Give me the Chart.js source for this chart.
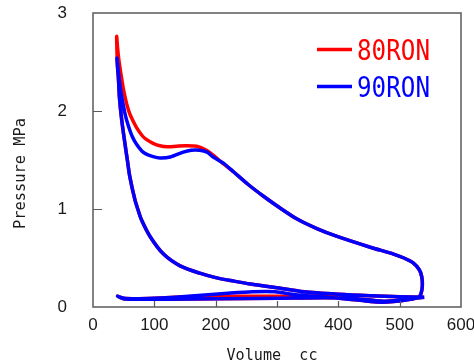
<!DOCTYPE html>
<html>
<head>
<meta charset="utf-8">
<script src="https://cdn.jsdelivr.net/npm/chart.js@4/dist/chart.umd.min.js"></script>
<style>
html,body{margin:0;padding:0;background:#fff;}
canvas{display:block;}
</style>
</head>
<body>
<canvas id="c" width="474" height="362"></canvas>
<script>
// ---- data (volume in cc, pressure in MPa), one closed P-V loop per series ----
const seriesLabels = ["80RON", "90RON"];
const xTickValues = [0, 100, 200, 300, 400, 500, 600];
const yTickValues = [0, 1, 2, 3];
const xTitle = "Volume  cc";
const yTitle = "Pressure MPa";

const ron80Volume = [540,500,452,400,344,297,256,229,200,174,142,115,93,79,74,68.5,60,56,52,48,45,43,41.3,40,38.6,
  40,42,44.5,47,50,55,60,66,71,80,87,98,109,122,136,150,169,185,196,205,215,229,253,278,305,332,365,398,452,490,507,522,532,536,537,535,531,
  515,490,465,440,410,370,335,297,260,220,177,134,100,70,50,40,
  50,70,120,200,300,380,430,470,500,525,540];
const ron80Pressure = [0.10,0.105,0.115,0.13,0.155,0.20,0.235,0.265,0.30,0.345,0.42,0.54,0.72,0.89,0.98,1.09,1.33,1.50,1.67,1.85,2.01,2.15,2.35,2.45,2.76,
  2.65,2.53,2.42,2.32,2.21,2.07,1.97,1.89,1.83,1.75,1.71,1.67,1.645,1.635,1.64,1.645,1.64,1.60,1.55,1.50,1.45,1.38,1.25,1.13,1.01,0.90,0.80,0.72,0.61,0.54,0.50,0.45,0.38,0.31,0.22,0.14,0.10,
  0.075,0.055,0.05,0.065,0.085,0.11,0.11,0.11,0.11,0.11,0.11,0.10,0.09,0.085,0.09,0.11,
  0.085,0.08,0.08,0.085,0.09,0.095,0.085,0.06,0.07,0.09,0.10];

const ron90Volume = [540,500,452,400,344,297,256,229,200,174,142,115,93,79,74,68.5,60,56,52,48,45,43,41.3,40,39,
  41,44,47,50,53,57.6,64,71,80,87,98,109,126,147,160,174,186,196,212,229,253,278,305,332,365,398,452,490,507,522,532,536,537,535,531,
  515,490,465,440,410,370,330,297,260,220,177,134,100,70,50,40,
  50,70,120,200,300,380,430,470,500,525,540];
const ron90Pressure = [0.10,0.105,0.115,0.13,0.155,0.20,0.235,0.265,0.30,0.345,0.42,0.54,0.72,0.89,0.98,1.09,1.33,1.50,1.67,1.85,2.01,2.15,2.35,2.45,2.54,
  2.42,2.26,2.14,2.04,1.95,1.85,1.74,1.66,1.59,1.56,1.535,1.52,1.53,1.58,1.60,1.60,1.58,1.53,1.47,1.38,1.25,1.13,1.01,0.90,0.80,0.72,0.61,0.54,0.50,0.45,0.38,0.31,0.22,0.14,0.10,
  0.075,0.055,0.05,0.065,0.085,0.105,0.125,0.155,0.155,0.14,0.12,0.10,0.09,0.085,0.09,0.11,
  0.085,0.08,0.08,0.085,0.09,0.095,0.085,0.06,0.07,0.09,0.10];

const seriesColors = ["#ff0000", "#0000ff"];

// ---- font detection ----
function hasFont(name){
  const c = document.createElement('canvas').getContext('2d');
  const s = 'RON0123456789 Wmlli';
  const res = [];
  for (const g of ['monospace','serif']) {
    c.font = '40px ' + g; const a = c.measureText(s).width;
    c.font = '40px "' + name + '", ' + g; const b = c.measureText(s).width;
    res.push(a !== b);
  }
  return res[0] && res[1];
}
const narrow = hasFont('Liberation Sans Narrow');
const tickFamily = narrow ? '"Liberation Sans Narrow", "Liberation Sans", sans-serif' : '"Liberation Sans", Arial, sans-serif';
const tickSize = narrow ? 19 : 17;
const monoFamily = '"DejaVu Sans Mono", "Liberation Mono", monospace';

function toPoints(xs, ys){ return xs.map((v,i)=>({x:v, y:ys[i]})); }

function drawScaledText(ctx, text, x, y, font, targetWidth, align, rot){
  ctx.save();
  ctx.font = font;
  const w = ctx.measureText(text).width;
  const sx = targetWidth / w;
  ctx.translate(x, y);
  if (rot) ctx.rotate(rot);
  ctx.scale(sx, 1);
  ctx.textBaseline = 'alphabetic';
  ctx.textAlign = align || 'left';
  ctx.fillText(text, 0, 0);
  ctx.restore();
}

const framePlugin = {
  id: 'framePlugin',
  afterDraw(chart){
    const {ctx, chartArea:{left,right,top,bottom}, scales:{x,y}} = chart;
    ctx.save();
    ctx.strokeStyle = '#5a5a5a';
    ctx.lineWidth = 1.5;
    ctx.strokeRect(left, top, right-left, bottom-top);
    ctx.lineWidth = 1.2;
    ctx.beginPath();
    x.ticks.forEach(t => {
      if (t.value > x.min && t.value < x.max) {
        const px = Math.round(x.getPixelForValue(t.value)) + 0.5;
        ctx.moveTo(px, bottom); ctx.lineTo(px, bottom - 6);
      }
    });
    y.ticks.forEach(t => {
      if (t.value > y.min && t.value < y.max) {
        const py = Math.round(y.getPixelForValue(t.value)) + 0.5;
        ctx.moveTo(left, py); ctx.lineTo(left + 9, py);
      }
    });
    ctx.stroke();
    ctx.restore();

    // axis titles
    ctx.save();
    ctx.fillStyle = '#1a1a1a';
    drawScaledText(ctx, xTitle, 272, 360, '15px ' + monoFamily, 91, 'center', 0);
    drawScaledText(ctx, yTitle, 25, 173.5, '15.3px ' + monoFamily, 111, 'center', -Math.PI/2);
    ctx.restore();

    // legend inside plot
    const rows = [60, 97];
    chart.data.datasets.forEach((ds, i) => {
      const yb = rows[i];
      const yc = yb - 10.5;
      ctx.save();
      ctx.strokeStyle = ds.borderColor;
      ctx.lineWidth = 3.5;
      ctx.beginPath();
      ctx.moveTo(317, yc); ctx.lineTo(352, yc);
      ctx.stroke();
      ctx.fillStyle = ds.borderColor;
      drawScaledText(ctx, ds.label, 357, yb, '29px ' + monoFamily, 73, 'left', 0);
      ctx.restore();
    });
  }
};

new Chart(document.getElementById('c'), {
  type: 'scatter',
  data: {
    datasets: [
      { label: seriesLabels[0], data: toPoints(ron80Volume, ron80Pressure), showLine: true,
        borderColor: seriesColors[0], backgroundColor: seriesColors[0], borderWidth: 3.5,
        pointRadius: 0, tension: 0.25, fill: false, order: 2 },
      { label: seriesLabels[1], data: toPoints(ron90Volume, ron90Pressure), showLine: true,
        borderColor: seriesColors[1], backgroundColor: seriesColors[1], borderWidth: 3.5,
        pointRadius: 0, tension: 0.25, fill: false, order: 1 }
    ]
  },
  options: {
    responsive: false,
    animation: false,
    devicePixelRatio: 1,
    layout: { padding: { top: 13, right: 13, left: 0, bottom: 0 } },
    plugins: { legend: { display: false }, tooltip: { enabled: false } },
    scales: {
      x: {
        type: 'linear', min: xTickValues[0], max: xTickValues[xTickValues.length-1],
        afterBuildTicks: s => { s.ticks = xTickValues.map(v => ({value: v})); },
        afterFit: s => { s.height = 55; s.paddingLeft = 0; s.paddingRight = 0; },
        grid: { display: false, drawTicks: false },
        border: { display: false },
        ticks: { color: '#1a1a1a', padding: 8, maxRotation: 0, font: { family: tickFamily, size: tickSize } }
      },
      y: {
        type: 'linear', min: yTickValues[0], max: yTickValues[yTickValues.length-1],
        afterBuildTicks: s => { s.ticks = yTickValues.map(v => ({value: v})); },
        afterFit: s => { s.width = 93; s.paddingTop = 0; s.paddingBottom = 0; },
        grid: { display: false, drawTicks: false },
        border: { display: false },
        ticks: { color: '#1a1a1a', padding: 26, font: { family: tickFamily, size: tickSize } }
      }
    }
  },
  plugins: [framePlugin]
});
</script>
</body>
</html>
